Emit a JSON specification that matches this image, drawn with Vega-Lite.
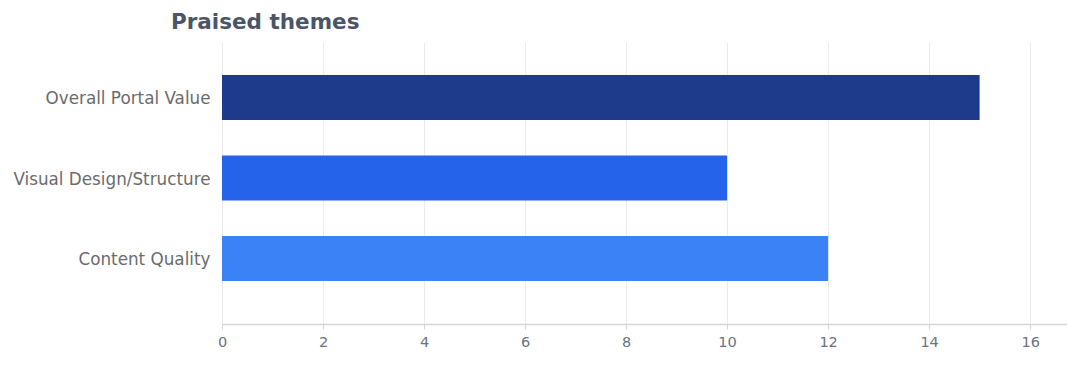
{
  "$schema": "https://vega.github.io/schema/vega-lite/v6.json",
  "autosize": "none",
  "width": 845,
  "height": 282,
  "padding": {"left": 222, "top": 42, "right": 0, "bottom": 43},
  "background": "#ffffff",
  "title": {
    "text": "Praised themes",
    "anchor": "start",
    "frame": "group",
    "dx": -51,
    "offset": 9,
    "font": "DejaVu Sans",
    "fontSize": 21.5,
    "fontWeight": "bold",
    "color": "#4a5568"
  },
  "data": {
    "values": [
      {"theme": "Overall Portal Value", "count": 15, "color": "#1e3a8a"},
      {"theme": "Visual Design/Structure", "count": 10, "color": "#2563eb"},
      {"theme": "Content Quality", "count": 12, "color": "#3b82f6"}
    ]
  },
  "mark": {"type": "bar"},
  "encoding": {
    "y": {
      "field": "theme",
      "type": "nominal",
      "sort": null,
      "scale": {"paddingInner": 0.441, "paddingOuter": 0.472, "align": 0.434},
      "axis": {
        "title": null,
        "domain": false,
        "ticks": false,
        "grid": false,
        "labelFont": "DejaVu Sans",
        "labelFontSize": 16.8,
        "labelColor": "#6b6b6b",
        "labelPadding": 12,
        "labelOffset": 2,
        "labelLimit": 300
      }
    },
    "x": {
      "field": "count",
      "type": "quantitative",
      "scale": {"domain": [0, 16.73], "nice": false, "zero": true},
      "axis": {
        "title": null,
        "values": [0, 2, 4, 6, 8, 10, 12, 14, 16],
        "grid": true,
        "gridColor": "#ebebeb",
        "domainColor": "#d1d5db",
        "domainWidth": 1.5,
        "tickColor": "#d1d5db",
        "tickSize": 5,
        "labelFlush": false,
        "labelFont": "DejaVu Sans",
        "labelFontSize": 14.5,
        "labelColor": "#6b7280",
        "labelPadding": 6
      }
    },
    "color": {"field": "color", "type": "nominal", "scale": null, "legend": null}
  },
  "config": {"view": {"stroke": null}}
}
